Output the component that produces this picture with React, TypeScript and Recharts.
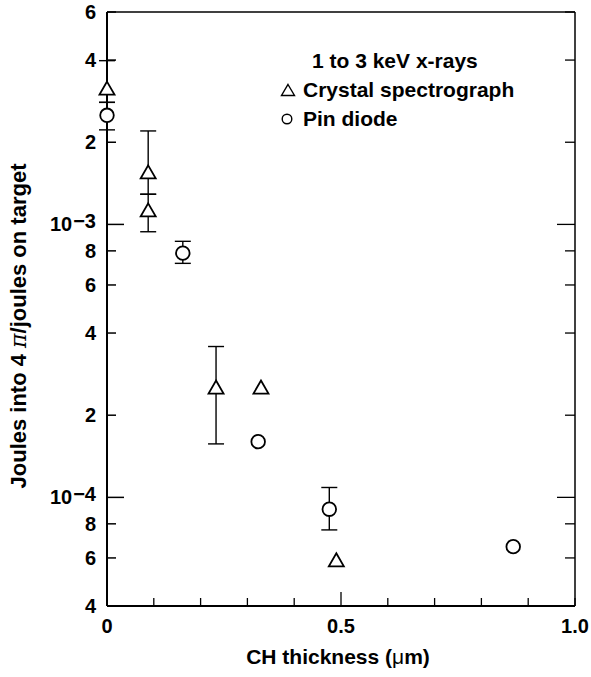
import React from "react";
import { ScatterChart, Scatter, XAxis, YAxis, ErrorBar, Legend } from "recharts";

const FONT = '"Liberation Sans", Arial, Helvetica, sans-serif';

// x ticks every 0.1, only three labelled
const xTicks = [0, 0.1, 0.2, 0.3, 0.4, 0.5, 0.6, 0.7, 0.8, 0.9, 1.0];
const xLabelled = [0, 0.5, 1.0];
const yTicks = [4e-5, 6e-5, 8e-5, 1e-4, 2e-4, 4e-4, 6e-4, 8e-4, 1e-3, 2e-3, 4e-3, 6e-3];

// Crystal spectrograph (triangles)
const crystalX = [0, 0.088, 0.088, 0.233, 0.329, 0.49];
const crystalY = [3.1e-3, 1.53e-3, 1.11e-3, 2.49e-4, 2.49e-4, 5.8e-5];
const crystalLow = [2.8e-3, 1.29e-3, 9.4e-4, 1.57e-4, null, null];
const crystalHigh = [3.98e-3, 2.2e-3, 1.29e-3, 3.57e-4, null, null];

// Pin diode (circles)
const pinX = [0, 0.162, 0.323, 0.475, 0.868];
const pinY = [2.51e-3, 7.85e-4, 1.6e-4, 9.05e-5, 6.6e-5];
const pinLow = [2.22e-3, 7.2e-4, null, 7.6e-5, null];
const pinHigh = [2.8e-3, 8.67e-4, null, 1.087e-4, null];

const toRows = (xs: number[], ys: number[], lo: (number | null)[], hi: (number | null)[]) =>
  xs.map((x, i) => ({
    x,
    y: ys[i],
    err: lo[i] == null ? null : [ys[i] - (lo[i] as number), (hi[i] as number) - ys[i]],
  }));

const crystalData = toRows(crystalX, crystalY, crystalLow, crystalHigh);
const pinData = toRows(pinX, pinY, pinLow, pinHigh);

const PLOT_L = 107;
const PLOT_R = 575;
const PLOT_T = 12;
const PLOT_B = 606;
const W = 591;
const H = 677;

const isDecade = (v: number) => Math.abs(Math.log10(v) - Math.round(Math.log10(v))) < 1e-6;

function Triangle({ cx, cy }: any) {
  const s = 15;
  const h = (s * Math.sqrt(3)) / 2;
  return (
    <path
      d={`M${cx},${cy - (2 * h) / 3}L${cx + s / 2},${cy + h / 3}L${cx - s / 2},${cy + h / 3}Z`}
      fill="#fff"
      stroke="#000"
      strokeWidth={1.8}
    />
  );
}

function Circle({ cx, cy }: any) {
  return <circle cx={cx} cy={cy} r={6.8} fill="#fff" stroke="#000" strokeWidth={1.8} />;
}

function LeftTick({ x, y, payload }: any) {
  const v = payload.value;
  const major = isDecade(v);
  const exp = Math.floor(Math.log10(v) + 1e-9);
  const mant = Math.round(v / Math.pow(10, exp));
  return (
    <g>
      <line x1={PLOT_L} x2={PLOT_L + (major ? 17 : 9)} y1={y} y2={y} stroke="#000" strokeWidth={1.5} />
      <text x={x} y={y + 7} textAnchor="end" fontFamily={FONT} fontWeight="bold" fontSize={20} fill="#000">
        {major ? (
          <>
            {"10"}
            <tspan dx={1} dy={-3}>{`\u2212${-exp}`}</tspan>
          </>
        ) : (
          String(mant)
        )}
      </text>
    </g>
  );
}

function RightTick({ y, payload }: any) {
  const major = isDecade(payload.value);
  return <line x1={PLOT_R} x2={PLOT_R - (major ? 18 : 10)} y1={y} y2={y} stroke="#000" strokeWidth={1.3} />;
}

function BottomTick({ x, payload }: any) {
  const v = payload.value;
  const half = Math.abs(v - 0.5) < 1e-6;
  const lab = xLabelled.some((t) => Math.abs(t - v) < 1e-6);
  return (
    <g>
      <line x1={x} x2={x} y1={PLOT_B} y2={PLOT_B - (half ? 14 : 8)} stroke="#000" strokeWidth={1.3} />
      {lab && (
        <text x={x} y={PLOT_B + 27} textAnchor="middle" fontFamily={FONT} fontWeight="bold" fontSize={20} fill="#000">
          {v === 0 ? "0" : v.toFixed(1)}
        </text>
      )}
    </g>
  );
}

function TopTick({ x, payload }: any) {
  const half = Math.abs(payload.value - 0.5) < 1e-6;
  return <line x1={x} x2={x} y1={PLOT_T} y2={PLOT_T + (half ? 16 : 10)} stroke="#000" strokeWidth={1.3} />;
}

function YTitle() {
  return (
    <text
      x={18}
      y={326}
      transform="rotate(-90 18 326)"
      textAnchor="middle"
      dominantBaseline="central"
      fontFamily={FONT}
      fontWeight="bold"
      fontSize={22}
      fill="#000"
    >
      Joules into 4 <tspan fontStyle="italic" fontWeight="normal" fontFamily="'DejaVu Serif', serif">π</tspan>/joules on target
    </text>
  );
}

function XTitle() {
  return (
    <text x={338} y={664} textAnchor="middle" fontFamily={FONT} fontWeight="bold" fontSize={21} fill="#000">
      CH thickness (<tspan fontWeight="normal">μ</tspan>m)
    </text>
  );
}

function LegendBox() {
  const row: React.CSSProperties = { height: 29, lineHeight: "29px", whiteSpace: "nowrap", display: "flex", alignItems: "center" };
  return (
    <div style={{ fontFamily: FONT, fontWeight: "bold", fontSize: 21, color: "#000" }}>
      <div style={{ ...row, paddingLeft: 32 }}>1 to 3 keV x-rays</div>
      <div style={row}>
        <svg width={16} height={14} style={{ marginRight: 7 }}>
          <path d="M8,1.5L14.5,12.5L1.5,12.5Z" fill="none" stroke="#000" strokeWidth={1.4} />
        </svg>
        Crystal spectrograph
      </div>
      <div style={row}>
        <svg width={16} height={14} style={{ marginRight: 7 }}>
          <circle cx={7} cy={7} r={4.8} fill="none" stroke="#000" strokeWidth={1.4} />
        </svg>
        Pin diode
      </div>
    </div>
  );
}

export default function App() {
  return (
    <div style={{ position: "absolute", left: 0, top: 0, width: W, height: H, background: "#fff" }}>
      <ScatterChart width={W} height={H} margin={{ top: 0, right: 0, left: 0, bottom: 0 }}>
        <XAxis
          dataKey="x"
          type="number"
          domain={[0, 1]}
          ticks={xTicks}
          interval={0}
          height={H - PLOT_B}
          axisLine={{ stroke: "#000", strokeWidth: 2 }}
          tickLine={false}
          tickSize={0}
          tickMargin={0}
          tick={<BottomTick />}
          label={<XTitle />}
        />
        <XAxis
          xAxisId="top"
          orientation="top"
          type="number"
          domain={[0, 1]}
          ticks={xTicks}
          interval={0}
          height={PLOT_T}
          axisLine={{ stroke: "#000", strokeWidth: 1.5 }}
          tickLine={false}
          tickSize={0}
          tickMargin={0}
          tick={<TopTick />}
        />
        <YAxis
          dataKey="y"
          type="number"
          scale="log"
          domain={[4e-5, 6e-3]}
          allowDataOverflow
          ticks={yTicks}
          interval={0}
          width={PLOT_L}
          axisLine={{ stroke: "#000", strokeWidth: 2 }}
          tickLine={false}
          tickSize={0}
          tickMargin={11}
          tick={<LeftTick />}
          label={<YTitle />}
        />
        <YAxis
          yAxisId="right"
          orientation="right"
          type="number"
          scale="log"
          domain={[4e-5, 6e-3]}
          allowDataOverflow
          ticks={yTicks}
          interval={0}
          width={W - PLOT_R}
          axisLine={{ stroke: "#000", strokeWidth: 1.5 }}
          tickLine={false}
          tickSize={0}
          tickMargin={0}
          tick={<RightTick />}
        />
        <Legend
          layout="vertical"
          verticalAlign="middle"
          align="center"
          content={() => <LegendBox />}
          wrapperStyle={{ position: "absolute", left: 280, top: 46, width: "auto" }}
        />
        <Scatter data={crystalData} shape={<Triangle />} isAnimationActive={false}>
          <ErrorBar dataKey="err" direction="y" width={8} stroke="#000" strokeWidth={1.4} />
        </Scatter>
        <Scatter data={pinData} shape={<Circle />} isAnimationActive={false}>
          <ErrorBar dataKey="err" direction="y" width={8} stroke="#000" strokeWidth={1.4} />
        </Scatter>
      </ScatterChart>
    </div>
  );
}
